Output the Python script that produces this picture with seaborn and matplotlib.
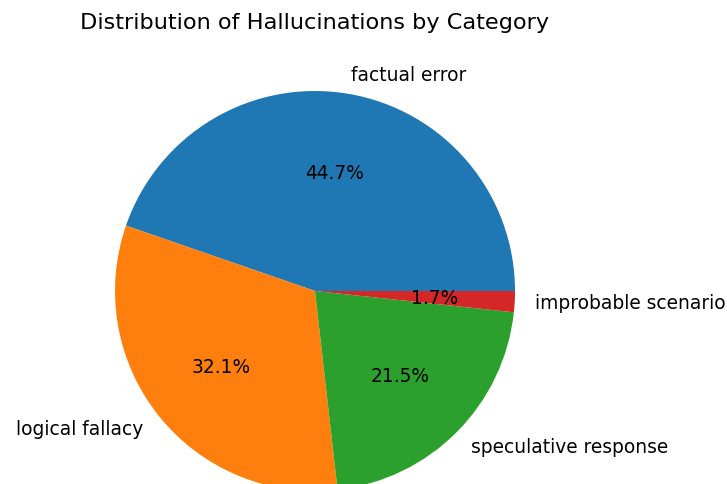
import matplotlib
matplotlib.use("Agg")
import matplotlib.pyplot as plt
import seaborn as sns

categories = ["factual error", "logical fallacy", "speculative response", "improbable scenario"]
values = [44.7, 32.1, 21.5, 1.7]

colors = sns.color_palette("tab10", 4)

fig = plt.figure(figsize=(7.27, 4.85), dpi=100)
ax = fig.add_axes([65/727, -57/485, 500/727, 500/485])
ax.pie(values, labels=categories, autopct="%1.1f%%", colors=colors,
       textprops={"fontsize": 13.4})
ax.set_title("Distribution of Hallucinations by Category", fontsize=16.1, pad=9.5)
fig.savefig("out.png", dpi=100)
